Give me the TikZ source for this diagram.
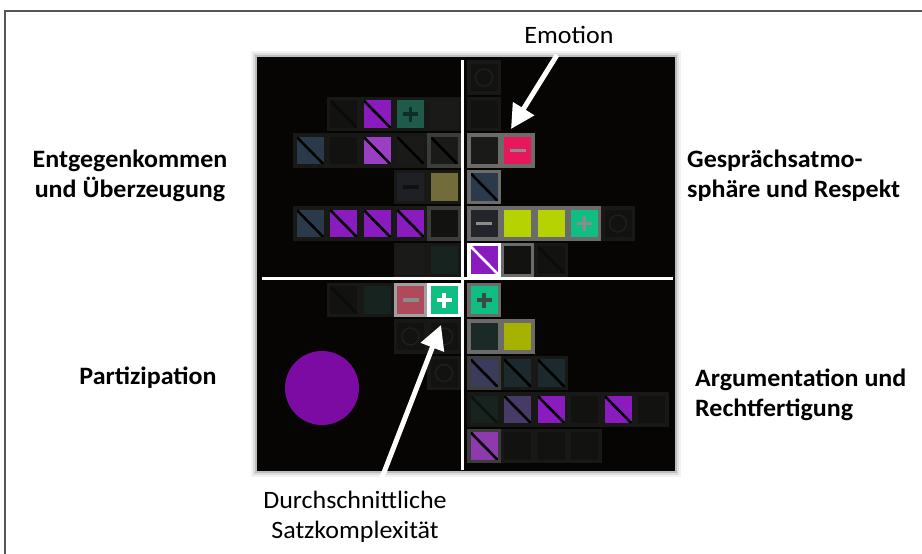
\documentclass[tikz,border=0pt]{standalone}
\usepackage{fontspec}
\setmainfont{Carlito}[FakeStretch=1.04]
\usetikzlibrary{arrows.meta}
\definecolor{panelbg}{HTML}{060504}
\definecolor{fntfill}{HTML}{121210}
\definecolor{fntedge}{HTML}{181816}
\definecolor{rimgray}{HTML}{6B6B69}
\definecolor{rimdim}{HTML}{3C3C3A}
\definecolor{rimlight}{HTML}{A0A0A0}
\definecolor{purp}{HTML}{8A1BBE}
\definecolor{purplight}{HTML}{9B3FC2}
\definecolor{purpsoft}{HTML}{8C3AAE}
\definecolor{bluegray}{HTML}{2B3A4A}
\definecolor{tealbright}{HTML}{10BE84}
\definecolor{tealdim}{HTML}{1F5B4B}
\definecolor{tealdimsign}{HTML}{0E2E27}
\definecolor{pinkc}{HTML}{E8175D}
\definecolor{ygreen}{HTML}{B6D200}
\definecolor{olivedim}{HTML}{716C3A}
\definecolor{olivebright}{HTML}{A6B200}
\definecolor{redmuted}{HTML}{AF4A5A}
\definecolor{darkslate}{HTML}{23252B}
\definecolor{signgray}{HTML}{8C8C8C}
\definecolor{signdark}{HTML}{3A4A44}
\definecolor{indigodim}{HTML}{3B3B5C}
\definecolor{tealshade}{HTML}{1C2A2D}
\definecolor{tealfaint}{HTML}{17231F}
\definecolor{violetdim}{HTML}{463A66}
\definecolor{greendark}{HTML}{1B2927}
\definecolor{minusdark}{HTML}{101010}
\definecolor{slatedim}{HTML}{1F1F26}
\definecolor{ringc}{HTML}{1E1E1C}
\definecolor{circpurp}{HTML}{7B0BA3}
\definecolor{framec}{HTML}{555555}
\definecolor{faintplus}{HTML}{1A1A18}
\tikzset{
  cellbox/.style={rectangle, minimum width=30.5pt, minimum height=31pt, inner sep=0pt,
    line width=3.5pt, draw=fntedge, fill=fntfill},
  grayrim/.style={draw=rimgray},
  dimrim/.style={draw=rimdim},
  lightrim/.style={draw=rimlight},
  whiterim/.style={draw=white},
  slash/.style={path picture={\draw[line width=2.6pt,#1]
      (path picture bounding box.north west)--(path picture bounding box.south east);}},
  slash/.default=black,
  plussign/.style={path picture={\draw[line width=3.2pt,#1]
      ([xshift=-7.5pt]path picture bounding box.center)--([xshift=7.5pt]path picture bounding box.center)
      ([yshift=-7.5pt]path picture bounding box.center)--([yshift=7.5pt]path picture bounding box.center);}},
  minussign/.style={path picture={\draw[line width=3.6pt,#1]
      ([xshift=-8pt]path picture bounding box.center)--([xshift=8pt]path picture bounding box.center);}},
  ringsign/.style={path picture={\draw[line width=1.5pt,#1]
      (path picture bounding box.center) circle (8.5pt);}},
  ringsign/.default=ringc,
  lbl/.style={font=\bfseries\fontsize{25}{30}\selectfont, inner sep=0pt},
  plainlbl/.style={font=\fontsize{25}{30}\selectfont, inner sep=0pt},
  arr/.style={draw=white, line width=5pt, -{Triangle[length=24pt,width=24pt]}},
  axis/.style={draw=white, line width=3pt},
}
\begin{document}
\begin{tikzpicture}[x=1pt,y=-1pt]
\useasboundingbox (0,0) rectangle (922,554);
\fill[white] (0,0) rectangle (922,554);
\draw[framec, line width=2pt] (5,554) -- (5,11) -- (922,11);
% panel with soft shadow
\foreach \s/\o in {6/0.05,4/0.08,2/0.15}{
  \fill[black, opacity=\o] (257-\s,57-\s) rectangle (675+\s,471+\s);
}
\fill[panelbg] (257,57) rectangle (675,471);
\draw[axis] (462,60) -- (462,470);
\draw[axis] (262,278) -- (673,278);
% ---------------- top left
\node[cellbox, slash=fntfill!60!black] (tl13) at (343.5,114) {};
\node[cellbox, fill=purp, slash] (tl12) at (377,114) {};
\node[cellbox, fill=tealdim, plussign=tealdimsign] (tl11) at (410.5,114) {};
\node[cellbox, fill=faintplus] (tl10) at (444,114) {};
\node[cellbox, fill=bluegray, slash] (tl24) at (310,150.5) {};
\node[cellbox] (tl23) at (343.5,150.5) {};
\node[cellbox, fill=purplight, slash] (tl22) at (377,150.5) {};
\node[cellbox, fill=faintplus, slash] (tl21) at (410.5,150.5) {};
\node[cellbox, dimrim, fill=faintplus, slash] (tl20) at (444,150.5) {};
\node[cellbox, fill=slatedim, minussign=minusdark] (tl31) at (410.5,187) {};
\node[cellbox, fill=olivedim] (tl30) at (444,187) {};
\node[cellbox, fill=bluegray, slash] (tl44) at (310,223.5) {};
\node[cellbox, fill=purp, slash] (tl43) at (343.5,223.5) {};
\node[cellbox, fill=purp, slash] (tl42) at (377,223.5) {};
\node[cellbox, fill=purp, slash] (tl41) at (410.5,223.5) {};
\node[cellbox, dimrim] (tl40) at (444,223.5) {};
\node[cellbox, fill=faintplus] (tl51) at (410.5,260) {};
\node[cellbox, fill=tealfaint] (tl50) at (444,260) {};
% ---------------- top right
\node[cellbox, ringsign] (tr00) at (484,77.5) {};
\node[cellbox] (tr10) at (484,114) {};
\node[cellbox, grayrim, fill=faintplus] (tr20) at (484,150.5) {};
\node[cellbox, grayrim, fill=pinkc, minussign=signgray] (tr21) at (517.5,150.5) {};
\node[cellbox, grayrim, fill=bluegray, slash] (tr30) at (484,187) {};
\node[cellbox, grayrim, fill=darkslate, minussign=signgray] (tr40) at (484,223.5) {};
\node[cellbox, grayrim, fill=ygreen] (tr41) at (517.5,223.5) {};
\node[cellbox, grayrim, fill=ygreen] (tr42) at (551,223.5) {};
\node[cellbox, grayrim, fill=tealbright, plussign=signgray] (tr43) at (584.5,223.5) {};
\node[cellbox, ringsign] (tr44) at (618,223.5) {};
\node[cellbox, whiterim, fill=purp, slash=white] (tr50) at (484,260) {};
\node[cellbox, grayrim, fill=fntfill] (tr51) at (517.5,260) {};
\node[cellbox, slash=fntfill!60!black] (tr52) at (551,260) {};
% ---------------- bottom left
\node[cellbox, slash=fntfill!60!black] (bl13) at (343.5,300) {};
\node[cellbox, fill=tealfaint] (bl12) at (377,300) {};
\node[cellbox, lightrim, fill=redmuted, minussign=signgray] (bl11) at (410.5,300) {};
\node[cellbox, whiterim, fill=tealbright, plussign=white] (bl10) at (444,300) {};
\node[cellbox, ringsign] (bl21) at (410.5,336.5) {};
\node[cellbox, ringsign] (bl20) at (444,336.5) {};
\node[cellbox, ringsign] (bl30) at (444,373) {};
\node[circle, fill=circpurp, minimum size=74pt, inner sep=0pt] (blob) at (322,388) {};
% ---------------- bottom right
\node[cellbox, grayrim, fill=tealbright, plussign=signdark] (br10) at (484,300) {};
\node[cellbox, grayrim, fill=greendark] (br20) at (484,336.5) {};
\node[cellbox, grayrim, fill=olivebright] (br21) at (517.5,336.5) {};
\node[cellbox, dimrim, fill=indigodim, slash] (br30) at (484,373) {};
\node[cellbox, fill=tealshade, slash] (br31) at (517.5,373) {};
\node[cellbox, fill=tealshade, slash] (br32) at (551,373) {};
\node[cellbox, fill=tealfaint, slash=tealfaint!50!black] (br40) at (484,409.5) {};
\node[cellbox, fill=violetdim, slash] (br41) at (517.5,409.5) {};
\node[cellbox, fill=purp, slash] (br42) at (551,409.5) {};
\node[cellbox] (br43) at (584.5,409.5) {};
\node[cellbox, fill=purp, slash] (br44) at (618,409.5) {};
\node[cellbox] (br45) at (651.5,409.5) {};
\node[cellbox, dimrim, fill=purpsoft, slash] (br50) at (484,446) {};
\node[cellbox] (br51) at (517.5,446) {};
\node[cellbox] (br52) at (551,446) {};
\node[cellbox] (br53) at (584.5,446) {};
% ---------------- labels (base anchor = baseline of the last line)
\node[plainlbl, anchor=base] (emo) at (569,43) {Emotion};
\node[lbl, anchor=base, align=center] (entg) at (130,197) {Entgegenkommen\\und Überzeugung};
\node[lbl, anchor=base west, align=left] (gesp) at (687,197) {Gesprächsatmo-\\sphäre und Respekt};
\node[lbl, anchor=base] (part) at (148,384) {Partizipation};
\node[lbl, anchor=base west, align=left] (argu) at (695,416) {Argumentation und\\Rechtfertigung};
\node[plainlbl, anchor=base, align=center] (durch) at (355,538) {Durchschnittliche\\Satzkomplexität};
% ---------------- arrows
\coordinate (emofrom) at (557,55);
\coordinate (emoto) at (511,129);
\draw[arr] (emofrom) -- (emoto);
\coordinate (durchfrom) at (378,488);
\coordinate (durchto) at (441,325);
\draw[arr] (durchfrom) -- (durchto);
\end{tikzpicture}
\end{document}
